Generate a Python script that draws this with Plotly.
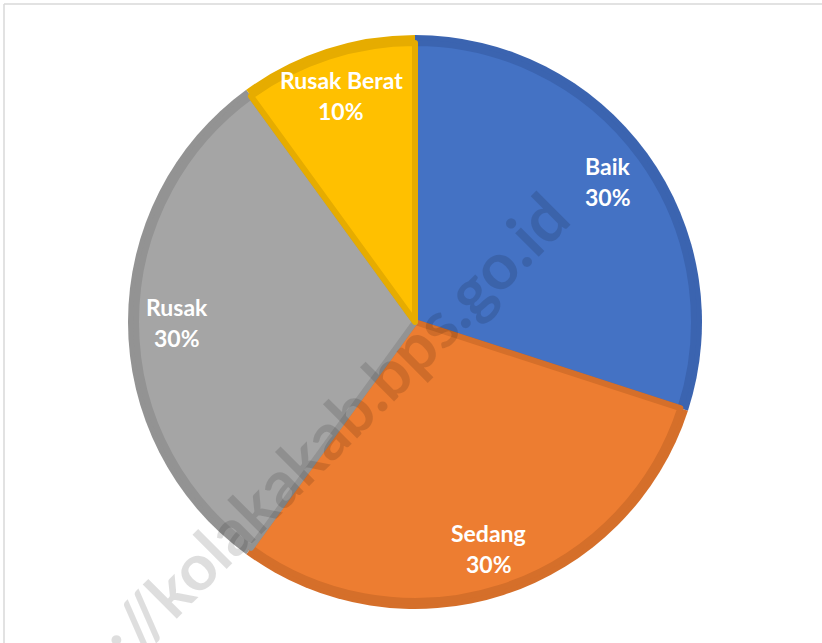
import plotly.graph_objects as go
import math

labels = ["Baik", "Sedang", "Rusak", "Rusak Berat"]
values = [30, 30, 30, 10]
fill_colors = ["#4472C4", "#ED7D31", "#A5A5A5", "#FFC000"]
edge_colors = ["#3B64B0", "#D56F2A", "#939393", "#E6AC00"]
watermark = "http://kolakakab.bps.go.id"

W, H = 822, 643
CX, CY = 415, 322     # pie centre, px
R_OUT, R_IN = 287, 279
LABEL_R = 0.83
LINE_GAP = 15.5

def dom(r):
    return dict(x=[(CX - r) / W, (CX + r) / W], y=[1 - (CY + r) / H, 1 - (CY - r) / H])

fig = go.Figure()
# darker ring (bottom)
fig.add_trace(go.Pie(labels=labels, values=values, sort=False, direction="clockwise",
                     rotation=0, domain=dom(R_OUT), textinfo="none", hoverinfo="skip",
                     marker=dict(colors=edge_colors, line=dict(width=0)), showlegend=False))
# main fill (top)
fig.add_trace(go.Pie(labels=labels, values=values, sort=False, direction="clockwise",
                     rotation=0, domain=dom(R_IN), textinfo="none",
                     marker=dict(colors=fill_colors, line=dict(color=edge_colors, width=6)),
                     showlegend=False))

annotations = []
total = sum(values)
cum = 0
lab_font = dict(family="Lato", size=23, color="white", weight="bold")
for lab, v in zip(labels, values):
    mid = (cum + v / 2) / total * 2 * math.pi
    cum += v
    px = CX + LABEL_R * R_OUT * math.sin(mid)
    py = CY - LABEL_R * R_OUT * math.cos(mid)
    for txt, dy in ((lab, -LINE_GAP), (f"{round(v / total * 100)}%", LINE_GAP)):
        annotations.append(dict(x=px / W, y=1 - (py + dy) / H, xref="paper", yref="paper",
                                text=txt, showarrow=False, font=lab_font,
                                xanchor="center", yanchor="middle"))

annotations.append(dict(x=292 / W, y=1 - 468 / H, xref="paper", yref="paper", text=watermark,
                        textangle=-45, showarrow=False,
                        font=dict(family="Lato", size=65, color="rgba(0,0,0,0.13)", weight="bold"),
                        xanchor="center", yanchor="middle"))

fig.update_layout(
    width=W, height=H, margin=dict(l=0, r=0, t=0, b=0),
    paper_bgcolor="white", plot_bgcolor="white",
    annotations=annotations,
    shapes=[
        dict(type="line", xref="paper", yref="paper", x0=4 / W, y0=1 - 4 / H, x1=1, y1=1 - 4 / H,
             line=dict(color="#D9D9D9", width=1.5)),
        dict(type="line", xref="paper", yref="paper", x0=4 / W, y0=1 - 4 / H, x1=4 / W, y1=0,
             line=dict(color="#D9D9D9", width=1.5)),
    ],
)

fig.write_html("out.html", config={"displayModeBar": False},
               post_script="document.body.style.margin='0px';")
